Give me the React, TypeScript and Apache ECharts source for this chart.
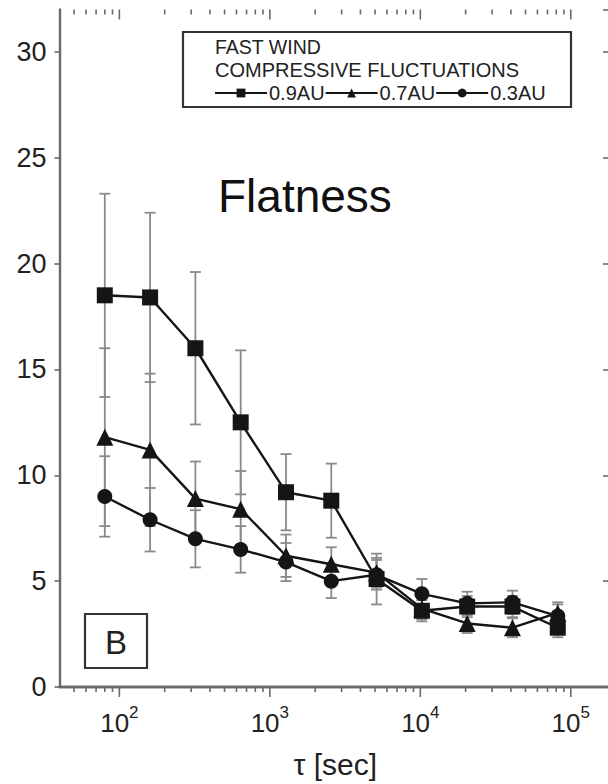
import React, { useEffect, useRef } from "react";
import * as echarts from "echarts";

const tau = [80, 160, 320, 640, 1280, 2560, 5120, 10240, 20480, 40960, 81920];
const f09 = [18.5, 18.4, 16.0, 12.5, 9.2, 8.8, 5.1, 3.6, 3.8, 3.8, 2.8];
const e09 = [4.8, 4.0, 3.6, 3.4, 1.8, 1.75, 1.2, 0.5, 0.5, 0.5, 0.45];
const f07 = [11.8, 11.2, 8.9, 8.4, 6.2, 5.8, 5.4, 3.7, 3.0, 2.8, 3.5];
const e07 = [4.2, 3.6, 1.75, 1.8, 1.0, 0.8, 0.7, 0.5, 0.45, 0.45, 0.5];
const f03 = [9.0, 7.9, 7.0, 6.5, 5.9, 5.0, 5.3, 4.4, 3.95, 4.0, 3.35];
const e03 = [1.9, 1.5, 1.35, 1.1, 0.9, 0.8, 0.7, 0.7, 0.55, 0.55, 0.55];
const seriesNames = ["0.9AU", "0.7AU", "0.3AU"];
const majorTicks = [100, 1000, 10000, 100000];
const minorTicks = [50, 60, 70, 80, 90, 200, 300, 400, 500, 600, 700, 800, 900, 2000, 3000, 4000, 5000, 6000, 7000, 8000, 9000, 20000, 30000, 40000, 50000, 60000, 70000, 80000, 90000];

const FONT = "Liberation Sans, Arial, sans-serif";
const X_MIN = 40;
const X_MAX = 185000;
const Y_MIN = 0;
const Y_MAX = 32;
const AXIS_COLOR = "#6a6a6a";

export default function App() {
  const ref = useRef<HTMLDivElement>(null);
  useEffect(() => {
    if (!ref.current) return;
    const chart = echarts.init(ref.current, undefined, { renderer: "svg" });

    const errSeries = (vals: number[], errs: number[], name: string) => ({
      type: "custom",
      name: name + "-err",
      clip: false,
      z: 1,
      silent: true,
      data: tau.map((t, i) => [t, vals[i] - errs[i], vals[i] + errs[i]]),
      encode: { x: 0, y: [1, 2] },
      renderItem: (params: any, api: any) => {
        const x = api.value(0);
        const lo = api.coord([x, api.value(1)]);
        const hi = api.coord([x, api.value(2)]);
        const w = 5.5;
        const st = { stroke: "#8a8a8a", lineWidth: 1.8 };
        return {
          type: "group",
          children: [
            { type: "line", shape: { x1: lo[0], y1: lo[1], x2: hi[0], y2: hi[1] }, style: st },
            { type: "line", shape: { x1: lo[0] - w, y1: lo[1], x2: lo[0] + w, y2: lo[1] }, style: st },
            { type: "line", shape: { x1: hi[0] - w, y1: hi[1], x2: hi[0] + w, y2: hi[1] }, style: st },
          ],
        };
      },
    });

    const lineSeries = (vals: number[], name: string, symbol: string, size: number) => ({
      type: "line",
      name,
      z: 3,
      data: tau.map((t, i) => [t, vals[i]]),
      symbol,
      symbolSize: size,
      showAllSymbol: true,
      lineStyle: { color: "#151515", width: 2.4 },
      itemStyle: { color: "#151515", borderWidth: 0 },
    });

    const tickData = [
      ...majorTicks.map((v) => [v, 1]),
      ...minorTicks.map((v) => [v, 0]),
    ];

    chart.setOption({
      animation: false,
      grid: { left: 59.5, right: 9, top: 9.5, bottom: 92.5, containLabel: false },
      xAxis: [
        {
          type: "log",
          min: X_MIN,
          max: X_MAX,
          position: "bottom",
          axisLine: { show: true, lineStyle: { color: AXIS_COLOR, width: 2.4 } },
          axisTick: { show: false },
          splitLine: { show: false },
          axisLabel: {
            show: true,
            margin: 17,
            showMinLabel: false,
            showMaxLabel: false,
            fontFamily: FONT,
            color: "#222",
            formatter: (v: number) => {
              const l = Math.log10(v);
              if (Math.abs(l - Math.round(l)) > 1e-6) return "";
              return "{b|10}{s|" + Math.round(l) + "}";
            },
            rich: {
              b: { fontSize: 26, fontFamily: FONT, color: "#222", verticalAlign: "bottom", lineHeight: 32 },
              s: { fontSize: 17, fontFamily: FONT, color: "#222", verticalAlign: "top", lineHeight: 32 },
            },
          },
          name: "\u03c4 [sec]",
          nameLocation: "middle",
          nameGap: 62,
          nameTextStyle: { fontSize: 30, fontFamily: FONT, color: "#222" },
        },
        {
          type: "log",
          min: X_MIN,
          max: X_MAX,
          position: "top",
          axisLine: { show: true, lineStyle: { color: AXIS_COLOR, width: 2.4 } },
          axisTick: { show: false },
          axisLabel: { show: false },
          splitLine: { show: false },
        },
      ],
      yAxis: [
        {
          type: "value",
          min: Y_MIN,
          max: Y_MAX,
          interval: 5,
          position: "left",
          axisLine: { show: true, lineStyle: { color: AXIS_COLOR, width: 2.4 } },
          axisTick: { show: true, length: 5, lineStyle: { color: AXIS_COLOR, width: 1.6 } },
          splitLine: { show: false },
          axisLabel: {
            margin: 13,
            fontSize: 27,
            fontFamily: FONT,
            color: "#222",
            showMaxLabel: false,
            formatter: (v: number) => (v > 30 ? "" : String(v)),
          },
        },
        {
          type: "value",
          min: Y_MIN,
          max: Y_MAX,
          interval: 5,
          position: "right",
          axisLine: { show: true, lineStyle: { color: AXIS_COLOR, width: 2.4 } },
          axisTick: { show: true, inside: true, length: 8, lineStyle: { color: AXIS_COLOR, width: 1.6 } },
          axisLabel: { show: false },
          splitLine: { show: false },
        },
      ],
      legend: {
        data: seriesNames,
        left: 214,
        top: 83,
        itemWidth: 52,
        itemHeight: 11,
        itemGap: 0,
        padding: 0,
        textStyle: { fontSize: 20, fontFamily: FONT, color: "#222", padding: [0, 0, 0, -3] },
        selectedMode: false,
      },
      graphic: [
        {
          type: "rect",
          shape: { x: 183, y: 32, width: 388, height: 75 },
          style: { fill: "none", stroke: "#333", lineWidth: 2.2 },
          z: 10,
        },
        {
          type: "text",
          x: 215,
          y: 47,
          style: { text: "FAST WIND", fontSize: 19.5, fontFamily: FONT, fill: "#222", verticalAlign: "middle" },
          z: 10,
        },
        {
          type: "text",
          x: 215,
          y: 70,
          style: { text: "COMPRESSIVE FLUCTUATIONS", fontSize: 20, fontFamily: FONT, fill: "#222", verticalAlign: "middle" },
          z: 10,
        },
        {
          type: "text",
          x: 218,
          y: 196,
          style: { text: "Flatness", fontSize: 46, fontFamily: FONT, fill: "#111", verticalAlign: "middle" },
          z: 10,
        },
        {
          type: "rect",
          shape: { x: 85, y: 614, width: 62, height: 54 },
          style: { fill: "none", stroke: "#333", lineWidth: 2.2 },
          z: 10,
        },
        {
          type: "text",
          x: 116,
          y: 642,
          style: { text: "B", fontSize: 33, fontFamily: FONT, fill: "#222", align: "center", verticalAlign: "middle" },
          z: 10,
        },
      ],
      series: [
        {
          type: "custom",
          name: "ticks",
          clip: false,
          silent: true,
          z: 2,
          data: tickData,
          encode: { x: 0, y: 1 },
          renderItem: (params: any, api: any) => {
            const v = api.value(0);
            const major = api.value(1) === 1;
            const b = api.coord([v, Y_MIN]);
            const t = api.coord([v, Y_MAX]);
            const len = major ? 10 : 5;
            const st = { stroke: AXIS_COLOR, lineWidth: 1.6 };
            return {
              type: "group",
              children: [
                { type: "line", shape: { x1: b[0], y1: b[1], x2: b[0], y2: b[1] + len }, style: st },
                { type: "line", shape: { x1: t[0], y1: t[1], x2: t[0], y2: t[1] + len }, style: st },
              ],
            };
          },
        },
        errSeries(f09, e09, seriesNames[0]),
        errSeries(f07, e07, seriesNames[1]),
        errSeries(f03, e03, seriesNames[2]),
        lineSeries(f09, seriesNames[0], "rect", 16),
        lineSeries(f07, seriesNames[1], "triangle", 17),
        lineSeries(f03, seriesNames[2], "circle", 15),
      ],
    });
    return () => chart.dispose();
  }, []);
  return (
    <div style={{ position: "absolute", left: 0, top: 0, width: 608, height: 784, overflow: "hidden", background: "#fff" }}>
      <div ref={ref} style={{ width: 620, height: 784 }} />
    </div>
  );
}
